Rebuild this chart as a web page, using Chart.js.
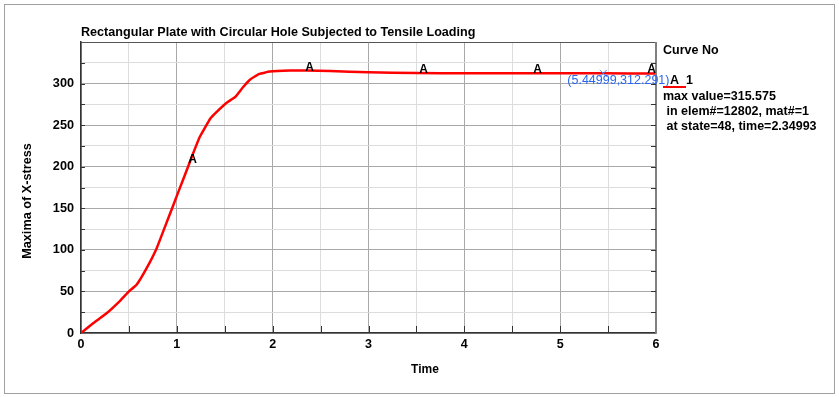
<!DOCTYPE html>
<html>
<head>
<meta charset="utf-8">
<script src="https://cdn.jsdelivr.net/npm/chart.js@4/dist/chart.umd.min.js"></script>
<style>
  html, body { margin: 0; padding: 0; background: #fff; }
  #wrap { width: 839px; height: 397px; }
</style>
</head>
<body>
<div id="wrap"><canvas id="c" width="839" height="397"></canvas></div>
<script>
// curve A (maxima of x-stress over time)
const times = [0, 0.13, 0.27, 0.41, 0.5, 0.58, 0.685, 0.79, 0.877, 0.964, 1.03, 1.084, 1.17, 1.24, 1.35, 1.416, 1.52, 1.61, 1.69, 1.76, 1.86, 1.97, 2.18, 2.35, 2.6, 3.0, 3.5, 4.0, 4.5, 5.0, 5.45, 6.0]
const stress = [0, 12, 24, 39, 50, 58, 78, 102, 128, 154, 174, 190, 216, 236, 258, 266, 277, 284, 295.6, 304.4, 311.6, 314.4, 315.6, 315.6, 315, 313.5, 312.6, 312.4, 312.4, 312.3, 312.29, 312.2]

// curve label "A" spots
const labelTimes = [1.13, 2.35, 3.54, 4.73, 5.92]
const labelStress = [205, 315.5, 312.4, 312.4, 312.3]

// picked point
const pickTime = 5.44999
const pickStress = 312.291

const legendLines = ['max value=315.575', ' in elem#=12802, mat#=1', ' at state=48, time=2.34993']

const FONT = '"Liberation Sans", Arial, sans-serif'

const decor = {
    id: 'decor',
    beforeDraw(chart) {
        const ctx = chart.ctx
        ctx.save()
        ctx.fillStyle = '#fff'
        ctx.fillRect(0, 0, chart.width, chart.height)
        ctx.strokeStyle = '#a0a0a0'
        ctx.lineWidth = 1
        ctx.strokeRect(4.5, 4.5, 830, 389)
        ctx.restore()
    },
    afterDatasetsDraw(chart) {
        const ctx = chart.ctx
        const a = chart.chartArea
        const xs = chart.scales.x, ys = chart.scales.y
        ctx.save()
        // frame of plot
        ctx.strokeStyle = '#555'
        ctx.lineWidth = 1
        ctx.beginPath()
        ctx.moveTo(a.left, a.top + 0.5); ctx.lineTo(a.right, a.top + 0.5)
        ctx.stroke()
        ctx.strokeStyle = '#808080'
        ctx.lineWidth = 2
        ctx.beginPath()
        ctx.moveTo(a.right, a.top); ctx.lineTo(a.right, a.bottom)
        ctx.stroke()
        // inner tick marks
        ctx.strokeStyle = '#333'
        ctx.lineWidth = 1
        ctx.beginPath()
        for (let t = 0.5; t < 6; t += 0.5) {
            const px = Math.round(xs.getPixelForValue(t)) + 0.5
            ctx.moveTo(px, a.bottom); ctx.lineTo(px, a.bottom - 7)
        }
        for (let v = 25; v < 350; v += 25) {
            const py = Math.round(ys.getPixelForValue(v)) + 0.5
            ctx.moveTo(a.right, py); ctx.lineTo(a.right - 5, py)
            ctx.moveTo(a.left, py); ctx.lineTo(a.left + 4, py)
        }
        ctx.stroke()

        // curve labels
        ctx.fillStyle = '#000'
        ctx.font = 'bold 12px ' + FONT
        ctx.textAlign = 'left'
        ctx.textBaseline = 'alphabetic'
        labelTimes.forEach((t, i) => {
            ctx.fillText('A', xs.getPixelForValue(t) - 1, ys.getPixelForValue(labelStress[i]))
        })

        // picked point text
        const px = xs.getPixelForValue(pickTime), py = ys.getPixelForValue(pickStress)
        ctx.fillStyle = '#2b66f0'
        ctx.font = '12.5px ' + FONT
        ctx.textBaseline = 'middle'
        ctx.fillText('(5.44999,312.291)', px - 36, py + 7)

        // title
        ctx.fillStyle = '#000'
        ctx.font = 'bold 12.6px ' + FONT
        ctx.fillText('Rectangular Plate with Circular Hole Subjected to Tensile Loading', a.left, 33)

        // axis titles
        ctx.font = 'bold 12px ' + FONT
        ctx.textAlign = 'center'
        ctx.fillText('Time', 425, 370)
        ctx.font = 'bold 12.7px ' + FONT
        ctx.save()
        ctx.translate(27, 201)
        ctx.rotate(-Math.PI / 2)
        ctx.fillText('Maxima of X-stress', 0, 0)
        ctx.restore()

        // legend
        ctx.textAlign = 'left'
        ctx.font = 'bold 12.5px ' + FONT
        ctx.fillText('Curve No', 663, 51)
        ctx.strokeStyle = '#ff0000'
        ctx.lineWidth = 2
        ctx.beginPath()
        ctx.moveTo(663, 87); ctx.lineTo(686, 87)
        ctx.stroke()
        ctx.fillText('A', 670, 81)
        ctx.fillText('1', 686, 81)
        legendLines.forEach((s, i) => ctx.fillText(s, 663, 97 + i * 15))
        ctx.restore()
    }
}

new Chart(document.getElementById('c'), {
    type: 'scatter',
    data: {
        datasets: [
            {
                label: 'A',
                data: times.map((t, i) => ({ x: t, y: stress[i] })),
                showLine: true,
                borderColor: '#ff0000',
                borderWidth: 2.5,
                pointRadius: 0,
                tension: 0.1,
                order: 2
            },
            {
                label: 'pick',
                data: [{ x: pickTime, y: pickStress }],
                pointStyle: 'crossRot',
                pointRadius: 5,
                borderColor: '#5b8cf5',
                borderWidth: 1,
                order: 1
            }
        ]
    },
    options: {
        responsive: false,
        animation: false,
        events: [],
        layout: { padding: { left: 0, top: 42, right: 183, bottom: 0 } },
        plugins: { legend: { display: false }, title: { display: false }, tooltip: { enabled: false } },
        scales: {
            x: {
                type: 'linear',
                min: 0,
                max: 6,
                afterFit: s => { s.height = 64 },
                ticks: {
                    stepSize: 0.5,
                    autoSkip: false,
                    maxRotation: 0,
                    padding: 4,
                    color: '#000',
                    font: { family: FONT, size: 12.5, weight: 'bold' },
                    callback: v => Number.isInteger(v) ? String(v) : ''
                },
                grid: {
                    drawTicks: false,
                    color: c => (c.tick && Number.isInteger(c.tick.value)) ? '#a8a8a8' : '#dcdcdc'
                },
                border: { color: '#333', width: 1.5 }
            },
            y: {
                type: 'linear',
                min: 0,
                max: 350,
                afterFit: s => { s.width = 81 },
                ticks: {
                    stepSize: 25,
                    autoSkip: false,
                    padding: 7,
                    color: '#000',
                    font: { family: FONT, size: 12.7, weight: 'bold' },
                    callback: v => (v % 50 === 0 && v <= 300) ? String(v) : ''
                },
                grid: {
                    drawTicks: false,
                    color: c => (c.tick && c.tick.value % 50 === 0) ? '#a8a8a8' : '#dcdcdc'
                },
                border: { color: '#333', width: 1.5 }
            }
        }
    },
    plugins: [decor]
})
</script>
</body>
</html>
